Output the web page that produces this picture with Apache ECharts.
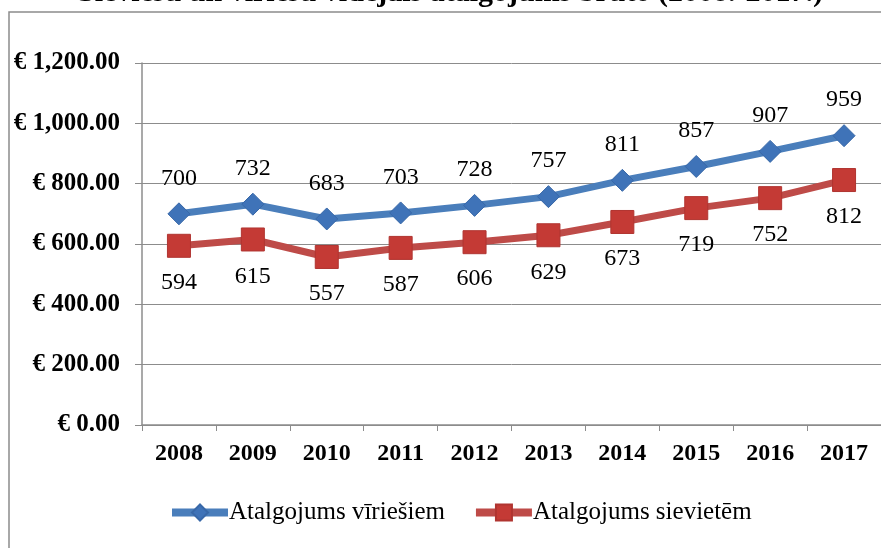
<!DOCTYPE html>
<html>
<head>
<meta charset="utf-8">
<script src="https://cdn.jsdelivr.net/npm/echarts@6/dist/echarts.min.js"></script>
<style>
html,body{margin:0;padding:0;background:#fff;}
#main{width:881px;height:548px;}
</style>
</head>
<body>
<div id="main"></div>
<script>
var years = ['2008','2009','2010','2011','2012','2013','2014','2015','2016','2017'];
var men = [700, 732, 683, 703, 728, 757, 811, 857, 907, 959];
var women = [594, 615, 557, 587, 606, 629, 673, 719, 752, 812];
var yTicks = [0, 200, 400, 600, 800, 1000, 1200];

var serif = '"Liberation Serif", "DejaVu Serif", serif';

var myChart = echarts.init(document.getElementById('main'));

var option = {
	animation: false,
	backgroundColor: '#fff',
	title: {
		text: 'Sieviešu un vīriešu vidējais atalgojums bruto (2008.-2017.)',
		left: 73,
		top: -27,
		textStyle: { fontFamily: serif, fontWeight: 'bold', fontSize: 30, color: '#000' }
	},
	graphic: [{
		type: 'polyline',
		shape: { points: [[9, 548], [9, 12], [881, 12]] },
		style: { stroke: '#8c8c8c', lineWidth: 1.5, fill: null },
		silent: true
	}],
	legend: {
		bottom: 18,
		left: 163,
		itemWidth: 56,
		itemHeight: 20,
		itemGap: 27,
		lineStyle: { width: 8 },
		textStyle: { fontFamily: serif, fontSize: 25, color: '#000', padding: [0, 0, 0, -4] },
		data: ['Atalgojums vīriešiem', 'Atalgojums sievietēm']
	},
	grid: { left: 142, right: -11, top: 63, bottom: 123 },
	xAxis: {
		type: 'category',
		data: years,
		boundaryGap: true,
		axisLine: { lineStyle: { color: '#8c8c8c', width: 1.5 } },
		axisTick: { show: true, length: 6, inside: false, lineStyle: { color: '#8c8c8c' } },
		axisLabel: { fontFamily: serif, fontWeight: 'bold', fontSize: 24, color: '#000', margin: 17 }
	},
	yAxis: {
		type: 'value',
		min: yTicks[0],
		max: yTicks[yTicks.length - 1],
		interval: 200,
		axisLine: { show: true, lineStyle: { color: '#8c8c8c', width: 1.5 } },
		axisTick: { show: true, length: 7, lineStyle: { color: '#8c8c8c' } },
		splitLine: { lineStyle: { color: '#8c8c8c', width: 1 } },
		axisLabel: {
			fontFamily: serif, fontWeight: 'bold', fontSize: 25, color: '#000', margin: 22,
			formatter: function (v) {
				return '€ ' + v.toLocaleString('en-US', { minimumFractionDigits: 2, maximumFractionDigits: 2 });
			}
		}
	},
	series: [
		{
			name: 'Atalgojums vīriešiem',
			type: 'line',
			data: men,
			symbol: 'diamond',
			symbolSize: 22,
			lineStyle: { color: '#4a7ebb', width: 7 },
			itemStyle: { color: '#3f73b8', borderColor: '#3868a8', borderWidth: 1 },
			label: {
				show: true, position: 'top', distance: 12,
				fontFamily: serif, fontSize: 24, color: '#000'
			},
			z: 3
		},
		{
			name: 'Atalgojums sievietēm',
			type: 'line',
			data: women,
			symbol: 'rect',
			symbolSize: 23,
			lineStyle: { color: '#be4b48', width: 7 },
			itemStyle: { color: '#c43a35', borderColor: '#b03430', borderWidth: 1 },
			label: {
				show: true, position: 'bottom', distance: 13,
				fontFamily: serif, fontSize: 24, color: '#000'
			},
			z: 2
		}
	]
};

myChart.setOption(option);
</script>
</body>
</html>
